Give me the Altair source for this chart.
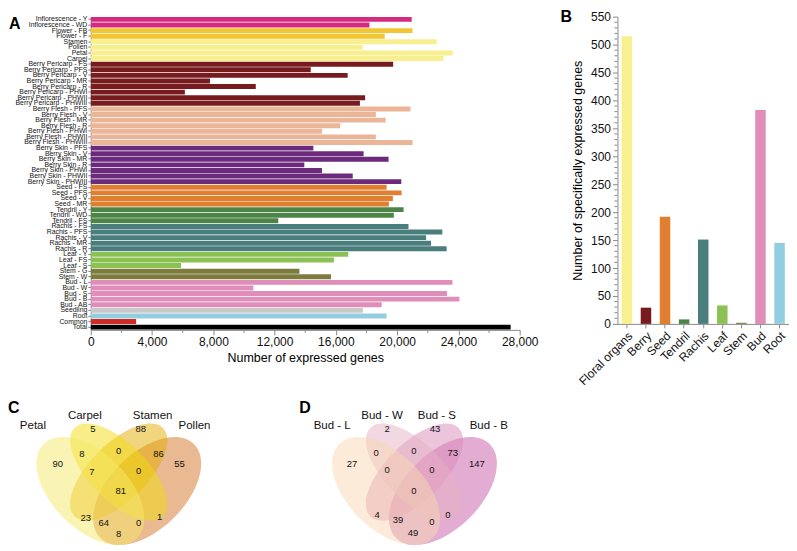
import altair as alt
import pandas as pd

FONT = "Liberation Sans"
AXC = "#8a8a8a"

# ---------------- Panel A data ----------------
a_samples = [
    "Inflorescence - Y", "Inflorescence - WD", "Flower - FB", "Flower - F",
    "Stamen", "Pollen", "Petal", "Carpel",
    "Berry Pericarp - FS", "Berry Pericarp - PFS", "Berry Pericarp - V", "Berry Pericarp - MR",
    "Berry Pericarp - R", "Berry Pericarp - PHWI", "Berry Pericarp - PHWII", "Berry Pericarp - PHWIII",
    "Berry Flesh - PFS", "Berry Flesh - V", "Berry Flesh - MR", "Berry Flesh - R",
    "Berry Flesh - PHWI", "Berry Flesh - PHWII", "Berry Flesh - PHWIII",
    "Berry Skin - PFS", "Berry Skin - V", "Berry Skin - MR", "Berry Skin - R",
    "Berry Skin - PHWI", "Berry Skin - PHWII", "Berry Skin - PHWIII",
    "Seed - FS", "Seed - PFS", "Seed - V", "Seed - MR",
    "Tendril - Y", "Tendril - WD", "Tendril - FS",
    "Rachis - FS", "Rachis - PFS", "Rachis - V", "Rachis - MR", "Rachis - R",
    "Leaf - Y", "Leaf - FS", "Leaf - S", "Stem - G", "Stem - W",
    "Bud - L", "Bud - W", "Bud - S", "Bud - B", "Bud - AB",
    "Seedling", "Root", "Common", "Total",
]
a_genes = [
    20950, 18190, 21000, 19190,
    22590, 17760, 23630, 23030,
    19740, 14360, 16770, 7780, 10770, 6140, 17910, 17570,
    20870, 18610, 19250, 16280, 15090, 18610, 21010,
    14530, 17810, 19440, 13940, 15090, 17100, 20270,
    19310, 20290, 19720, 19460,
    20420, 19780, 12240,
    20740, 22950, 21890, 22210, 23230,
    16810, 15870, 5890, 13620, 15680,
    23610, 10610, 23250, 24060, 18990,
    17760, 19310, 2960, 27410,
]
a_groups = (["Inflorescence"] * 2 + ["Flower"] * 2 + ["Floral"] * 4 + ["Pericarp"] * 8
            + ["Flesh"] * 7 + ["Skin"] * 7 + ["Seed"] * 4 + ["Tendril"] * 3 + ["Rachis"] * 5
            + ["Leaf"] * 3 + ["Stem"] * 2 + ["Bud"] * 5 + ["Seedling", "Root", "Common", "Total"])
group_names = ["Inflorescence", "Flower", "Floral", "Pericarp", "Flesh", "Skin", "Seed", "Tendril",
               "Rachis", "Leaf", "Stem", "Bud", "Seedling", "Root", "Common", "Total"]
group_colors = ["#d42a7f", "#f2c532", "#f8f08e", "#771b1f", "#ebb597", "#6c2a7c", "#e07f2f", "#4b8446",
                "#4a7e7c", "#8bc152", "#7e7c3c", "#df8db9", "#c9c9c9", "#93cee0", "#d12b28", "#000000"]
a_ticks = [0, 4000, 8000, 12000, 16000, 20000, 24000, 28000]
a_minor = [2000, 6000, 10000, 14000, 18000, 22000, 26000]

# ---------------- Panel B data ----------------
b_organs = ["Floral organs", "Berry", "Seed", "Tendril", "Rachis", "Leaf", "Stem", "Bud", "Root"]
b_counts = [515, 29, 192, 8, 151, 33, 2, 383, 145]
b_colors = ["#f8f08e", "#771b1f", "#e07f2f", "#4b8446", "#4a7e7c", "#8bc152", "#7e7c3c", "#df8db9", "#93cee0"]
b_ticks = list(range(0, 551, 50))
b_minor = [v for v in range(0, 551, 10) if v % 50 != 0]

# ---------------- Panel C data (Venn) ----------------
c_sets = ["Petal", "Carpel", "Stamen", "Pollen"]
c_set_x = [25, 77, 145, 187]
c_set_y = [25, 15, 15, 25]
c_fills = ["#f5e969", "#f1db0f", "#e5ad00", "#d37323"]
c_nums = ["5", "88", "90", "8", "0", "86", "55", "7", "0", "81", "23", "64", "0", "1", "8"]
c_num_x = [85, 133, 50, 74, 111, 151, 172, 84, 131, 113, 78, 96, 131, 152, 111]
c_num_y = [28, 28, 63, 53, 50, 53, 63, 72, 71, 91, 118, 123, 123, 117, 134]
c_ell_cx = [82.5, 111, 111, 139.5]
c_ell_cy = [90.6, 71.6, 71.6, 90.6]

# ---------------- Panel D data (Venn) ----------------
d_sets = ["Bud - L", "Bud - W", "Bud - S", "Bud - B"]
d_set_x = [35, 85, 140, 192]
d_set_y = [25, 15, 15, 25]
d_fills = ["#f7d7b1", "#e5b1c1", "#d989b9", "#c759a5"]
d_nums = ["2", "43", "27", "0", "0", "73", "147", "0", "0", "0", "4", "39", "0", "0", "49"]
d_num_x = [90, 138, 55, 79, 117, 156, 180, 90, 135, 117, 80, 101, 135, 151, 116]
d_num_y = [28, 28, 63, 52, 50, 52, 63, 70, 70, 91, 115, 120, 122, 115, 133]
d_ell_cx = [89, 117.5, 117.5, 146]
d_ell_cy = [90.6, 71.6, 71.6, 90.6]

# shared ellipse geometry (semi-axes and rotation)
ell_a = [66.5, 62.7, 62.7, 66.5]
ell_b = [38, 28.5, 28.5, 38]
ell_rot = [45, 45, 135, 135]


def ellipse_path(ratio):
    r = round(ratio, 4)
    return f"M-1,0A1,{r},0,1,1,1,0A1,{r},0,1,1,-1,0Z"


def letter(ch, x, y):
    return alt.Chart(pd.DataFrame({"t": [ch]})).mark_text(
        font=FONT, fontSize=16, fontWeight="bold", align="left", baseline="top"
    ).encode(text="t:N", x=alt.value(x), y=alt.value(y))


# ---------------- Panel A chart ----------------
W_A, H_A = 430, 314
xA = alt.Scale(domain=[0, 28000], nice=False)
axA = alt.Axis(values=a_ticks, format=",d", title="Number of expressed genes",
               titleFontWeight="normal", titleFontSize=12.5, titleFont=FONT,
               labelFont=FONT, labelFontSize=12, labelColor="#111", tickSize=5,
               tickColor=AXC, domainColor=AXC, grid=False, titlePadding=4,
               labelFlush=False)
dfA = pd.DataFrame({"sample": a_samples, "genes": a_genes, "group": a_groups})
barsA = alt.Chart(dfA).mark_bar().encode(
    y=alt.Y("sample:N", sort=a_samples,
            scale=alt.Scale(paddingInner=0.12, paddingOuter=0.05),
            axis=alt.Axis(title=None, labelFont=FONT, labelFontSize=6.9, labelPadding=1,
                          labelOverlap=False, tickSize=3, tickColor=AXC, domainColor=AXC,
                          labelColor="#111")),
    x=alt.X("genes:Q", scale=xA, axis=axA),
    color=alt.Color("group:N", scale=alt.Scale(domain=group_names, range=group_colors), legend=None),
)
minorA = alt.Chart(pd.DataFrame({"m": a_minor})).mark_rule(color=AXC, strokeWidth=1).encode(
    x=alt.X("m:Q", scale=xA, axis=axA),
    y=alt.value(H_A), y2=alt.value(H_A + 3))
chartA = alt.layer(barsA, minorA, letter("A", -82, -1)).properties(width=W_A, height=H_A)

# ---------------- Panel B chart ----------------
W_B, H_B = 172, 308
yB = alt.Scale(domain=[0, 550], nice=False)
axB = alt.Axis(values=b_ticks, format="d", title="Number of specifically expressed genes",
               titleFontWeight="normal", titleFontSize=12.5, titleFont=FONT,
               labelFont=FONT, labelFontSize=12, labelColor="#111", tickSize=5,
               tickColor=AXC, domainColor=AXC, grid=False, titlePadding=6)
dfB = pd.DataFrame({"organ": b_organs, "count": b_counts, "color": b_colors})
barsB = alt.Chart(dfB).mark_bar().encode(
    x=alt.X("organ:N", sort=b_organs, scale=alt.Scale(paddingInner=0.45, paddingOuter=0.22),
            axis=alt.Axis(title=None, labelAngle=-45, labelFont=FONT, labelFontSize=12,
                          labelColor="#111", tickSize=4, tickColor=AXC, domainColor=AXC)),
    y=alt.Y("count:Q", scale=yB, axis=axB),
    color=alt.Color("color:N", scale=None),
)
minorB = alt.Chart(pd.DataFrame({"m": b_minor})).mark_rule(color=AXC, strokeWidth=1).encode(
    y=alt.Y("m:Q", scale=yB, axis=axB),
    x=alt.value(0), x2=alt.value(-3))
chartB = alt.layer(barsB, minorB, letter("B", -57, -8)).properties(width=W_B, height=H_B)


# ---------------- Venn panels ----------------
def venn(cx, cy, fills, names, lx, ly, nums, nx, ny, ch, chx, x0, W, H):
    xs = alt.Scale(domain=[x0, x0 + W], nice=False)
    ys = alt.Scale(domain=[0, H], nice=False, reverse=True)
    ell = pd.DataFrame({
        "cx": cx, "cy": cy, "fill": fills, "rot": ell_rot,
        "path": [ellipse_path(b / a) for a, b in zip(ell_a, ell_b)],
        "size": [(2 * a) ** 2 for a in ell_a],
    }).iloc[::-1]
    e = alt.Chart(ell).mark_point(filled=True, opacity=0.5, strokeWidth=0).encode(
        x=alt.X("cx:Q", scale=xs, axis=None),
        y=alt.Y("cy:Q", scale=ys, axis=None),
        shape=alt.Shape("path:N", scale=None),
        size=alt.Size("size:Q", scale=None),
        angle=alt.Angle("rot:Q", scale=None),
        fill=alt.Fill("fill:N", scale=None),
    )
    lab = alt.Chart(pd.DataFrame({"x": lx, "y": ly, "t": names})).mark_text(
        font=FONT, fontSize=11.5, color="#111").encode(
        x=alt.X("x:Q", scale=xs, axis=None), y=alt.Y("y:Q", scale=ys, axis=None), text="t:N")
    num = alt.Chart(pd.DataFrame({"x": nx, "y": ny, "t": nums})).mark_text(
        font=FONT, fontSize=9.5, color="#111").encode(
        x=alt.X("x:Q", scale=xs, axis=None), y=alt.Y("y:Q", scale=ys, axis=None), text="t:N")
    return alt.layer(e, lab, num, letter(ch, chx - x0, -1)).properties(width=W, height=H)


chartC = venn(c_ell_cx, c_ell_cy, c_fills, c_sets, c_set_x, c_set_y,
              c_nums, c_num_x, c_num_y, "C", 0, 83, 122, 144)
chartD = venn(d_ell_cx, d_ell_cy, d_fills, d_sets, d_set_x, d_set_y,
              d_nums, d_num_x, d_num_y, "D", 2, 0, 215, 144)

top = alt.hconcat(chartA, chartB, spacing=22)
bottom = alt.hconcat(chartC, chartD, spacing=85)
chart = alt.vconcat(top, bottom, spacing=12, padding=0).configure_view(strokeWidth=0)

chart.save("out.html", embed_options={"renderer": "svg", "actions": False})
